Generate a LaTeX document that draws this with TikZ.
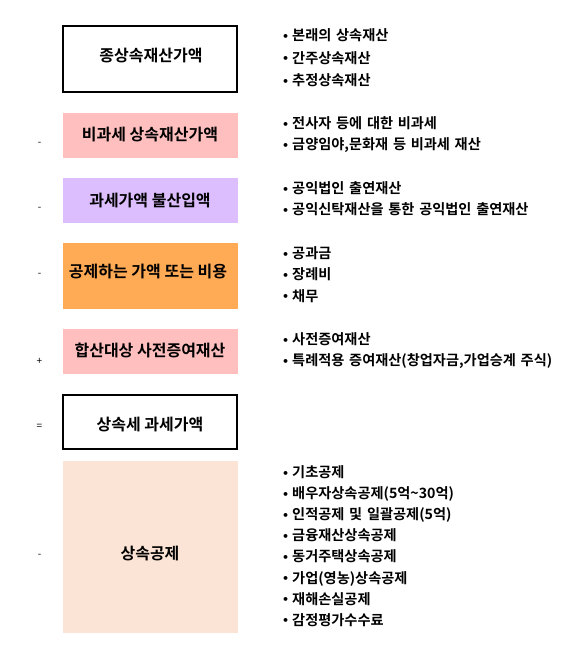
\documentclass[tikz,border=0pt]{standalone}
\usepackage{fontspec}
\setmainfont{Noto Sans CJK KR}
\newfontfamily\krbold{Noto Sans CJK KR Bold}
\newfontfamily\djv{DejaVu Sans}
\definecolor{pinkbox}{RGB}{255,191,191}
\definecolor{purplebox}{RGB}{220,190,255}
\definecolor{orangebox}{RGB}{255,170,85}
\definecolor{peachbox}{RGB}{251,228,214}
\newcommand{\bul}{{\djv\bfseries\fontsize{11}{12}\selectfont\raisebox{0.3pt}{•}}\hspace{3pt}}
\tikzset{
  framebox/.style={draw=black, line width=1.6pt, fill=white, minimum width=174.5pt, inner sep=0pt},
  fillbox/.style={draw=none, minimum width=175pt, inner sep=0pt},
  boxtext/.style={font=\krbold\fontsize{16}{19}\selectfont, inner sep=0pt},
  signtext/.style={font=\fontsize{10}{11}\selectfont, inner sep=0pt},
  listtext/.style={font=\krbold\fontsize{14.2}{21.3}\selectfont, inner sep=0pt, anchor=base west, text width=280pt, align=left},
}
\begin{document}
\begin{tikzpicture}[x=1pt,y=-1pt]
\useasboundingbox (0,0) rectangle (561,648);
% boxes
\node[framebox, minimum height=66.5pt] (b1) at (150,59) {};
\node[fillbox, fill=pinkbox, minimum height=45pt] (b2) at (150.5,135.5) {};
\node[fillbox, fill=purplebox, minimum height=45pt] (b3) at (150.5,200.5) {};
\node[fillbox, fill=orangebox, minimum height=66pt] (b4) at (150.5,276) {};
\node[fillbox, fill=pinkbox, minimum height=45pt] (b5) at (150.5,351.5) {};
\node[framebox, minimum height=54.5pt] (b6) at (150,422) {};
\node[fillbox, fill=peachbox, minimum height=172pt] (b7) at (150.5,547) {};
% box texts
\node[boxtext] (t1) at (151,55) {종상속재산가액};
\node[boxtext] (t2) at (150,135) {비과세 상속재산가액};
\node[boxtext] (t3) at (150,200) {과세가액 불산입액};
\node[boxtext] (t4) at (148,272) {공제하는 가액 또는 비용};
\node[boxtext] (t5) at (150,350) {합산대상 사전증여재산};
\node[boxtext] (t6) at (150,424) {상속세 과세가액};
\node[boxtext] (t7) at (150,554) {상속공제};
% signs
\node[signtext] (s2) at (39.5,144) {-};
\node[signtext] (s3) at (39.5,209) {-};
\node[signtext] (s4) at (39.5,275) {-};
\node[signtext] (s5) at (39.5,361) {+};
\node[signtext] (s6) at (39.5,427) {=};
\node[signtext] (s7) at (39.5,556) {-};
% lists
\node[listtext, font=\krbold\fontsize{14.2}{22.5}\selectfont] (l1) at (282,40.5) {\bul 본래의 상속재산\\ \bul 간주상속재산\\ \bul 추정상속재산};
\node[listtext] (l2) at (282,128.5) {\bul 전사자 등에 대한 비과세\\ \bul 금양임야,문화재 등 비과세 재산};
\node[listtext] (l3) at (282,193.5) {\bul 공익법인 출연재산\\ \bul 공익신탁재산을 통한 공익법인 출연재산};
\node[listtext] (l4) at (282,258.5) {\bul 공과금\\ \bul 장례비\\ \bul 채무};
\node[listtext] (l5) at (282,344.5) {\bul 사전증여재산\\ \bul 특례적용 증여재산(창업자금,가업승계 주식)};
\node[listtext, font=\krbold\fontsize{14.2}{21.1}\selectfont] (l6) at (282,477.5) {\bul 기초공제\\ \bul 배우자상속공제(5억\textasciitilde 30억)\\ \bul 인적공제 및 일괄공제(5억)\\ \bul 금융재산상속공제\\ \bul 동거주택상속공제\\ \bul 가업(영농)상속공제\\ \bul 재해손실공제\\ \bul 감정평가수수료};
\end{tikzpicture}
\end{document}
